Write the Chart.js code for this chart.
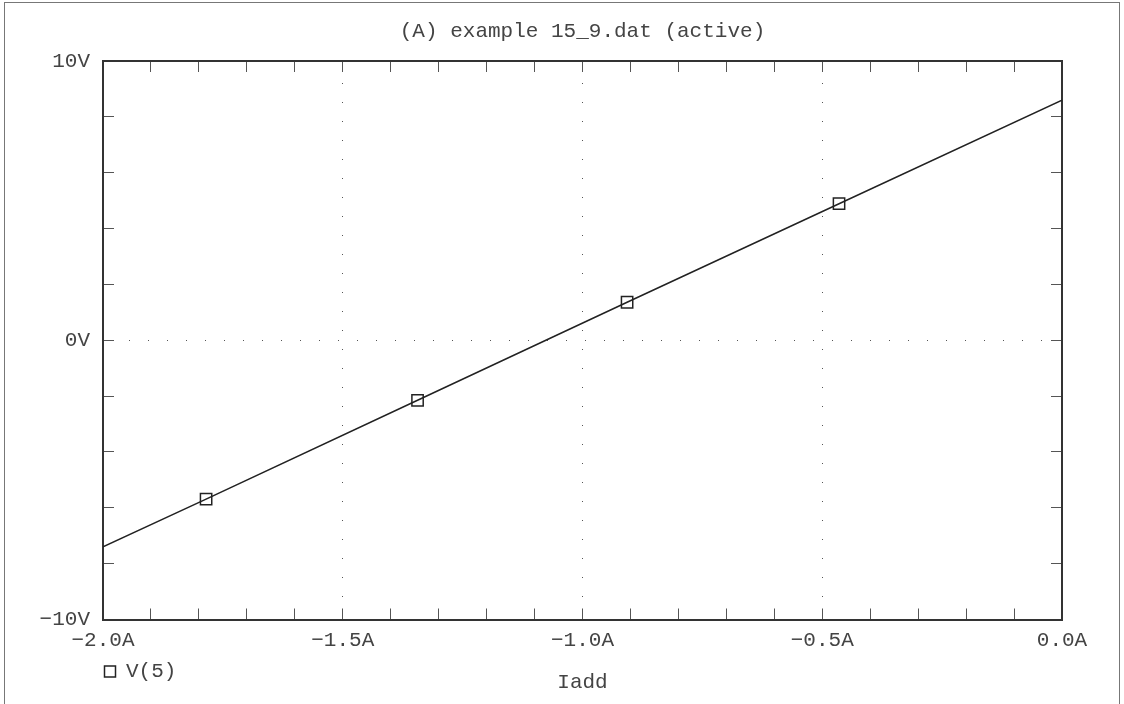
<!DOCTYPE html>
<html>
<head>
<meta charset="utf-8">
<title>(A) example 15_9.dat (active)</title>
<script src="https://cdn.jsdelivr.net/npm/chart.js@4.4.1/dist/chart.umd.min.js"></script>
<style>
  html, body { margin: 0; padding: 0; background: #fff; }
  #wrap  { position: relative; width: 1124px; height: 704px; overflow: hidden; }
  #frame { position: absolute; left: 4px; top: 2px; width: 1114px; height: 740px;
           border: 1.5px solid #777; pointer-events: none; }
</style>
</head>
<body>
<div id="wrap">
  <canvas id="probeChart" width="1124" height="704"></canvas>
  <div id="frame"></div>
</div>
<script>
// Trace data: sweep current (A) vs node voltage (V)
const iadd   = [-2.0, -1.785, -1.344, -0.907, -0.465, 0.0];
const v5     = [-7.4, -5.69, -2.15, 1.36, 4.89, 8.6];
// Marker squares only at the four inner samples
const marked = [false, true, true, true, true, false];

// Axis setup
const xRange = [-2.0, 0.0];
const yRange = [-10, 10];
const xStep  = 0.1;
const yStep  = 2;
const xLabeled = [-2.0, -1.5, -1.0, -0.5, 0.0];
const yLabeled = [-10, 0, 10];
const xGridAt  = [-1.5, -1.0, -0.5];
const yGridAt  = [0];

const TEXT  = "#444";
const AXIS  = "#333";
const TICK  = "#555";
const FONT  = { family: "'Liberation Mono', 'DejaVu Sans Mono', monospace", size: 21 };

function near(list, v) {
  return list.some(function (t) { return Math.abs(t - v) < 1e-6; });
}

// Minus sign like the original plot uses
function fmtA(v) {
  return (v < -1e-9 ? "\u2212" : "") + Math.abs(v).toFixed(1) + "A";
}
function fmtV(v) {
  return (v < 0 ? "\u2212" : "") + Math.abs(v) + "V";
}

// Shared settings for the inward tick marks
function tickGrid(gridList) {
  return {
    drawTicks: true,
    tickLength: -11,
    tickColor: TICK,
    tickWidth: 1,
    tickBorderDash: [],
    lineWidth: 1,
    color: function (ctx) {
      if (!ctx.tick || !gridList) return "rgba(0,0,0,0)";
      return near(gridList, ctx.tick.value) ? TICK : "rgba(0,0,0,0)";
    }
  };
}

const points = iadd.map(function (x, i) { return { x: x, y: v5[i] }; });

new Chart(document.getElementById("probeChart"), {
  type: "line",
  data: {
    datasets: [{
      label: "V(5)",
      data: points,
      borderColor: "#222",
      backgroundColor: "rgba(0,0,0,0)",
      borderWidth: 1.5,
      tension: 0,
      pointStyle: "rect",
      pointRadius: marked.map(function (m) { return m ? 8 : 0; }),
      pointBorderColor: "#222",
      pointBorderWidth: 1.5,
      pointBackgroundColor: "rgba(0,0,0,0)"
    }]
  },
  options: {
    responsive: false,
    animation: false,
    events: [],
    layout: { padding: 0 },
    scales: {
      x: {
        type: "linear", position: "bottom",
        min: xRange[0], max: xRange[1],
        grid: tickGrid(xGridAt),
        border: { display: true, color: AXIS, width: 2, dash: [1, 18], dashOffset: 16 },
        ticks: {
          stepSize: xStep, autoSkip: false, maxRotation: 0, minRotation: 0,
          padding: 19, color: TEXT, font: FONT,
          callback: function (v) { return near(xLabeled, v) ? fmtA(v) : ""; }
        },
        afterFit: function (s) { s.height = 40; }
      },
      x2: {
        type: "linear", position: "top", display: true,
        min: xRange[0], max: xRange[1],
        grid: tickGrid(null),
        border: { display: true, color: AXIS, width: 2 },
        ticks: { stepSize: xStep, autoSkip: false, display: false },
        afterFit: function (s) { s.height = 0; }
      },
      y: {
        type: "linear", position: "left",
        min: yRange[0], max: yRange[1],
        grid: tickGrid(yGridAt),
        border: { display: true, color: AXIS, width: 2, dash: [1, 18], dashOffset: 13 },
        ticks: {
          stepSize: yStep, autoSkip: false,
          padding: 24, color: TEXT, font: FONT,
          callback: function (v) { return near(yLabeled, v) ? fmtV(v) : ""; }
        },
        afterFit: function (s) { s.width = 103; }
      },
      y2: {
        type: "linear", position: "right", display: true,
        min: yRange[0], max: yRange[1],
        grid: tickGrid(null),
        border: { display: true, color: AXIS, width: 2 },
        ticks: { stepSize: yStep, autoSkip: false, display: false },
        afterFit: function (s) { s.width = 62; }
      }
    },
    plugins: {
      tooltip: { enabled: false },
      title: {
        display: true,
        text: "(A) example 15_9.dat (active)",
        position: "top",
        fullSize: false,
        color: TEXT,
        font: { family: FONT.family, size: 21, weight: "normal" },
        padding: { top: 18.4, bottom: 17.4 }
      },
      subtitle: {
        display: true,
        text: "Iadd",
        position: "bottom",
        fullSize: false,
        color: TEXT,
        font: { family: FONT.family, size: 21, weight: "normal" },
        padding: { top: -22.6, bottom: 9.4 }
      },
      legend: {
        display: true,
        position: "bottom",
        align: "start",
        fullSize: false,
        labels: {
          color: TEXT,
          font: FONT,
          boxWidth: 11,
          boxHeight: 11,
          padding: 1.5
        }
      }
    }
  }
});
</script>
</body>
</html>
